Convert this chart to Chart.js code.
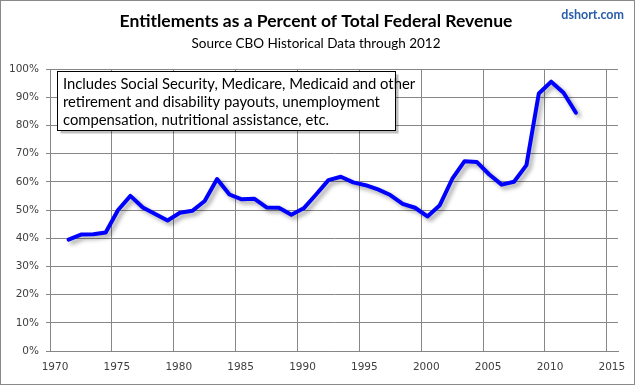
<!DOCTYPE html>
<html>
<head>
<meta charset="utf-8">
<script src="https://cdn.jsdelivr.net/npm/chart.js@4"></script>
<style>
  html, body { margin: 0; padding: 0; background: #fff; }
  canvas { display: block; }
</style>
</head>
<body>
<canvas id="myChart" width="635" height="385"></canvas>
<script>
// CBO historical data, fiscal years
const years = [1971, 1972, 1973, 1974, 1975, 1976, 1977, 1978, 1979, 1980,
    1981, 1982, 1983, 1984, 1985, 1986, 1987, 1988, 1989, 1990,
    1991, 1992, 1993, 1994, 1995, 1996, 1997, 1998, 1999, 2000,
    2001, 2002, 2003, 2004, 2005, 2006, 2007, 2008, 2009, 2010,
    2011, 2012];
const entitlementPct = [39.5, 41.3, 41.4, 42.0, 50.0, 55.0, 50.9, 48.6, 46.3, 49.0,
    49.7, 53.2, 61.0, 55.5, 53.8, 54.0, 50.9, 50.8, 48.3, 50.6,
    55.5, 60.6, 61.8, 59.8, 58.8, 57.3, 55.3, 52.2, 50.8, 47.7,
    51.7, 61.0, 67.3, 67.0, 62.6, 59.0, 60.0, 65.9, 91.3, 95.5,
    91.6, 84.5];
const xTicks = [1970, 1975, 1980, 1985, 1990, 1995, 2000, 2005, 2010, 2015];
const yTicks = [0, 10, 20, 30, 40, 50, 60, 70, 80, 90, 100];

const chartTitle = 'Entitlements as a Percent of Total Federal Revenue';
const chartSubtitle = 'Source CBO Historical Data through 2012';
const brand = 'dshort.com';
const noteLines = [
    'Includes Social Security, Medicare, Medicaid and other',
    'retirement and disability payouts, unemployment',
    'compensation, nutritional assistance, etc.'
];

const gridColor = '#868686';

// each year plotted in the middle of the year
const points = years.map((yr, i) => ({ x: yr + 0.5, y: entitlementPct[i] }));

const framePlugin = {
    id: 'frame',
    beforeDraw: function (chart) {
        const c = chart.ctx;
        c.save();
        c.fillStyle = '#fff';
        c.fillRect(0, 0, chart.width, chart.height);
        c.restore();
    },
    afterDraw: function (chart) {
        const c = chart.ctx;
        c.save();
        // outer border
        c.strokeStyle = '#8a8a8a';
        c.lineWidth = 1;
        c.strokeRect(0.5, 0.5, chart.width - 1, chart.height - 1);

        // titles
        c.fillStyle = '#000';
        c.textAlign = 'center';
        c.textBaseline = 'middle';
        c.font = 'bold 17.5px Lato';
        c.fillText(chartTitle, 316, 21);
        c.font = '13.5px Lato';
        c.fillText(chartSubtitle, 316, 44);

        c.fillStyle = '#2a5caa';
        c.font = 'bold 12.5px Lato';
        c.textAlign = 'right';
        c.fillText(brand, 624, 15);

        // note box
        const bx = 57.5, by = 71.5, bw = 338, bh = 59;
        c.fillStyle = 'rgba(0,0,0,0.25)';
        c.fillRect(bx + 3, by + 3, bw, bh);
        c.fillStyle = '#fff';
        c.fillRect(bx, by, bw, bh);
        c.strokeStyle = '#000';
        c.strokeRect(bx, by, bw, bh);
        c.fillStyle = '#000';
        c.textAlign = 'left';
        c.font = '14.8px Lato';
        noteLines.forEach((line, i) => {
            c.fillText(line, 63, 84 + i * 18);
        });
        c.restore();
    }
};

const shadowPlugin = {
    id: 'lineShadow',
    beforeDatasetDraw: function (chart) {
        const c = chart.ctx;
        c.save();
        c.shadowColor = 'rgba(0,0,0,0.35)';
        c.shadowOffsetX = 3;
        c.shadowOffsetY = 3;
        c.shadowBlur = 4;
    },
    afterDatasetDraw: function (chart) {
        chart.ctx.restore();
    }
};

const ctx = document.getElementById('myChart').getContext('2d');
const myChart = new Chart(ctx, {
    type: 'line',
    data: {
        datasets: [{
            label: 'Entitlements % of revenue',
            data: points,
            borderColor: '#0000ff',
            borderWidth: 4,
            pointRadius: 0,
            tension: 0,
            borderJoinStyle: 'round',
            borderCapStyle: 'round',
            fill: false
        }]
    },
    plugins: [framePlugin, shadowPlugin],
    options: {
        responsive: false,
        animation: false,
        layout: {
            padding: { top: 69, right: 17, bottom: 0, left: 0 }
        },
        plugins: {
            legend: { display: false },
            tooltip: { enabled: false }
        },
        scales: {
            x: {
                type: 'linear',
                min: 1970,
                max: 2015.9,
                afterBuildTicks: function (scale) {
                    scale.ticks = xTicks.map(v => ({ value: v }));
                },
                afterFit: function (scale) {
                    scale.height = 34;
                },
                grid: {
                    color: gridColor,
                    lineWidth: 1,
                    drawTicks: false
                },
                border: { color: gridColor },
                ticks: {
                    autoSkip: false,
                    maxRotation: 0,
                    padding: 10,
                    labelOffset: 5,
                    color: '#404040',
                    font: { family: 'DejaVu Sans', size: 10.5 },
                    callback: function (v) { return String(v); }
                }
            },
            y: {
                min: 0,
                max: 100,
                afterBuildTicks: function (scale) {
                    scale.ticks = yTicks.map(v => ({ value: v }));
                },
                afterFit: function (scale) {
                    scale.width = 50;
                },
                grid: {
                    color: gridColor,
                    lineWidth: 1,
                    tickLength: 4
                },
                border: { color: gridColor },
                ticks: {
                    padding: 7,
                    color: '#404040',
                    font: { family: 'DejaVu Sans', size: 10.5 },
                    callback: function (v) { return v + '%'; }
                }
            }
        }
    }
});
</script>
</body>
</html>
